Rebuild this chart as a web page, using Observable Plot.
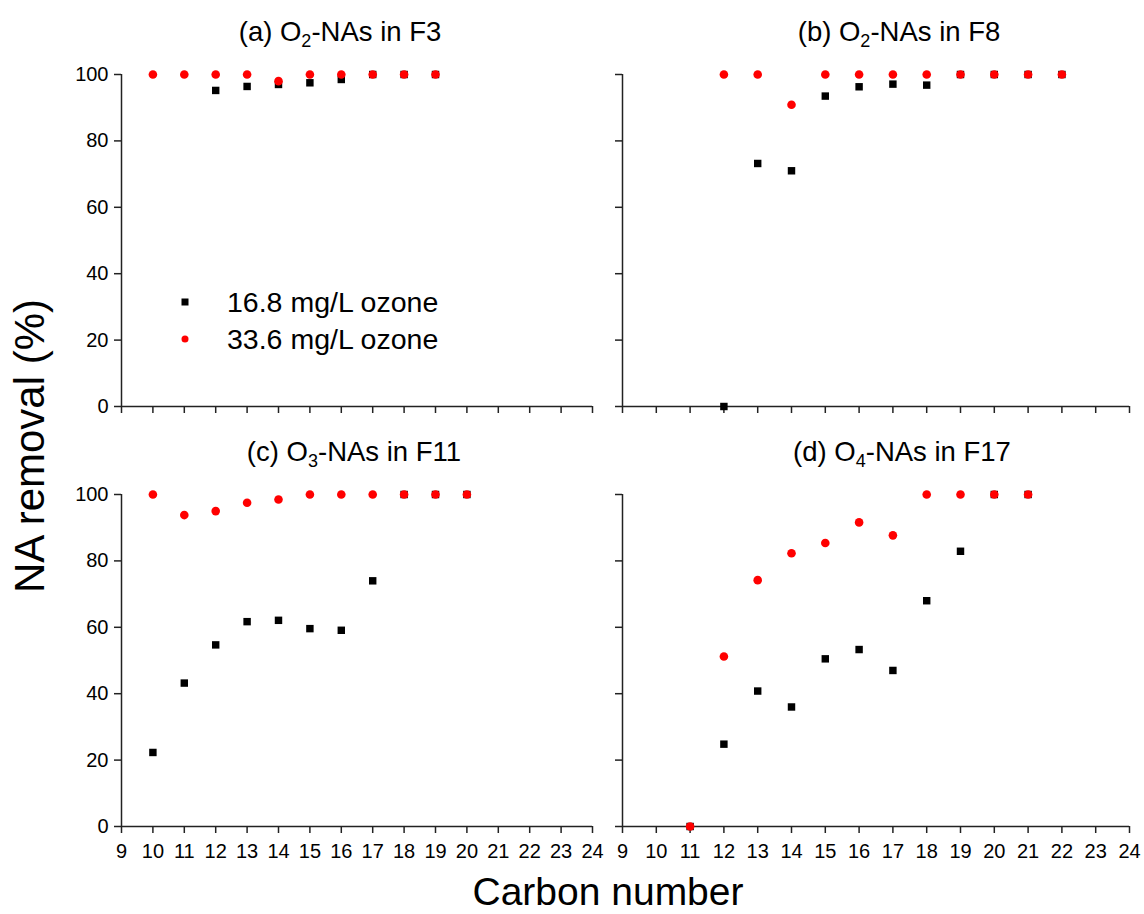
<!DOCTYPE html>
<html>
<head>
<meta charset="utf-8">
<script src="https://cdn.jsdelivr.net/npm/d3@7"></script>
<script src="https://cdn.jsdelivr.net/npm/@observablehq/plot@0.6"></script>
<style>
  html, body { margin: 0; padding: 0; background: #fff; }
  #root { position: relative; width: 1144px; height: 914px; font-family: "Liberation Sans", Arial, sans-serif; color: #000; overflow: hidden; }
  .panel { position: absolute; }
  .title { position: absolute; font-size: 27.5px; white-space: nowrap; transform: translate(-50%, -50%); line-height: 1; }
  .title sub { font-size: 18px; vertical-align: -6px; line-height: 0; }
  .axlabel { position: absolute; white-space: nowrap; line-height: 1; }
  .leg { position: absolute; font-size: 28.5px; white-space: nowrap; line-height: 1; transform: translateY(-50%); }
  .sym { position: absolute; transform: translate(-50%, -50%); }
</style>
</head>
<body>
<div id="root"></div>
<script>
// ---- data ----
const xTicks = [9, 10, 11, 12, 13, 14, 15, 16, 17, 18, 19, 20, 21, 22, 23, 24];
const yTicks = [0, 20, 40, 60, 80, 100];
const seriesNames = ["16.8 mg/L ozone", "33.6 mg/L ozone"];

// (a) O2-NAs in F3
const aCarbon = [10, 11, 12, 13, 14, 15, 16, 17, 18, 19];
const aLow  = [null, null, 95.2, 96.4, 97.0, 97.5, 98.5, 100, 100, 100];
const aHigh = [100, 100, 100, 100, 98.0, 100, 100, 100, 100, 100];

// (b) O2-NAs in F8
const bCarbon = [12, 13, 14, 15, 16, 17, 18, 19, 20, 21, 22];
const bLow  = [0, 73.2, 71.0, 93.5, 96.3, 97.1, 96.8, 100, 100, 100, 100];
const bHigh = [100, 100, 90.9, 100, 100, 100, 100, 100, 100, 100, 100];

// (c) O3-NAs in F11
const cCarbon = [10, 11, 12, 13, 14, 15, 16, 17, 18, 19, 20];
const cLow  = [22.3, 43.2, 54.7, 61.7, 62.1, 59.6, 59.1, 74.0, 100, 100, 100];
const cHigh = [100, 93.8, 95.0, 97.5, 98.5, 100, 100, 100, 100, 100, 100];

// (d) O4-NAs in F17
const dCarbon = [11, 12, 13, 14, 15, 16, 17, 18, 19, 20, 21];
const dLow  = [0, 24.8, 40.8, 36.0, 50.5, 53.3, 47.0, 68.0, 82.9, 100, 100];
const dHigh = [0, 51.2, 74.2, 82.3, 85.4, 91.6, 87.7, 100, 100, 100, 100];

const titles = [
  '(a) O<sub>2</sub>-NAs in F3',
  '(b) O<sub>2</sub>-NAs in F8',
  '(c) O<sub>3</sub>-NAs in F11',
  '(d) O<sub>4</sub>-NAs in F17'
];

// ---- drawing ----
const root = document.getElementById("root");
const FONT = '"Liberation Sans", Arial, sans-serif';

function rows(c, v) {
  return c.map((x, i) => ({x, y: v[i]})).filter(d => d.y != null);
}

function panel(opts) {
  const {carbon, low, high, left, top, width, height, ml, mr, mt, mb, xLabels, yLabels} = opts;
  const svg = Plot.plot({
    width, height,
    marginLeft: ml, marginRight: mr, marginTop: mt, marginBottom: mb,
    style: {fontFamily: FONT, fontSize: "20px", color: "#000", background: "transparent", overflow: "visible"},
    x: {domain: [9, 24]},
    y: {domain: [0, 100]},
    marks: [
      Plot.axisY({ticks: yTicks, tickSize: 7, tickPadding: 6, stroke: "#222", strokeWidth: 1.5,
        tickFormat: yLabels ? (d => String(d)) : (() => ""), label: null}),
      Plot.axisX({ticks: xTicks, tickSize: 7, tickPadding: 10, stroke: "#222", strokeWidth: 1.5,
        tickFormat: xLabels ? (d => String(d)) : (() => ""), label: null}),
      Plot.ruleX([9], {stroke: "#222", strokeWidth: 1.5}),
      Plot.ruleY([0], {stroke: "#222", strokeWidth: 1.5}),
      Plot.dot(rows(carbon, low), {x: "x", y: "y", symbol: "square", fill: "#000", r: 4.2}),
      Plot.dot(rows(carbon, high), {x: "x", y: "y", symbol: "circle", fill: "#ff0000", r: 4.3})
    ]
  });
  svg.classList.add("panel");
  svg.style.left = left + "px";
  svg.style.top = top + "px";
  root.appendChild(svg);
}

// left column: x 121..592 ; right column: x 622..1129
// top row: y 74..406 ; bottom row: y 494..826
panel({carbon: aCarbon, low: aLow, high: aHigh, left: 0, top: 50, width: 600, height: 370,
  ml: 121, mr: 8, mt: 24, mb: 14, xLabels: false, yLabels: true});
panel({carbon: bCarbon, low: bLow, high: bHigh, left: 600, top: 50, width: 544, height: 370,
  ml: 22, mr: 15, mt: 24, mb: 14, xLabels: false, yLabels: false});
panel({carbon: cCarbon, low: cLow, high: cHigh, left: 0, top: 470, width: 600, height: 395,
  ml: 121, mr: 8, mt: 24, mb: 39, xLabels: true, yLabels: true});
panel({carbon: dCarbon, low: dLow, high: dHigh, left: 600, top: 470, width: 544, height: 395,
  ml: 22, mr: 15, mt: 24, mb: 39, xLabels: true, yLabels: false});

// panel titles
const titlePos = [[340, 32], [899, 32], [354, 452], [902, 452]];
titles.forEach((t, i) => {
  const d = document.createElement("div");
  d.className = "title";
  d.innerHTML = t;
  d.style.left = titlePos[i][0] + "px";
  d.style.top = titlePos[i][1] + "px";
  root.appendChild(d);
});

// axis labels
const yl = document.createElement("div");
yl.className = "axlabel";
yl.textContent = "NA removal (%)";
yl.style.fontSize = "42px";
yl.style.left = "30px";
yl.style.top = "446px";
yl.style.transform = "translate(-50%, -50%) rotate(-90deg)";
root.appendChild(yl);

const xl = document.createElement("div");
xl.className = "axlabel";
xl.textContent = "Carbon number";
xl.style.fontSize = "39px";
xl.style.left = "608px";
xl.style.top = "891px";
xl.style.transform = "translate(-50%, -50%)";
root.appendChild(xl);

// legend
const legY = [302, 339];
const sq = document.createElement("div");
sq.className = "sym";
Object.assign(sq.style, {left: "185px", top: legY[0] + "px", width: "7px", height: "7px", background: "#000"});
root.appendChild(sq);
const ci = document.createElement("div");
ci.className = "sym";
Object.assign(ci.style, {left: "185px", top: legY[1] + "px", width: "7px", height: "7px", background: "#ff0000", borderRadius: "50%"});
root.appendChild(ci);
seriesNames.forEach((n, i) => {
  const d = document.createElement("div");
  d.className = "leg";
  d.textContent = n;
  d.style.left = "227px";
  d.style.top = legY[i] + "px";
  root.appendChild(d);
});
</script>
</body>
</html>
